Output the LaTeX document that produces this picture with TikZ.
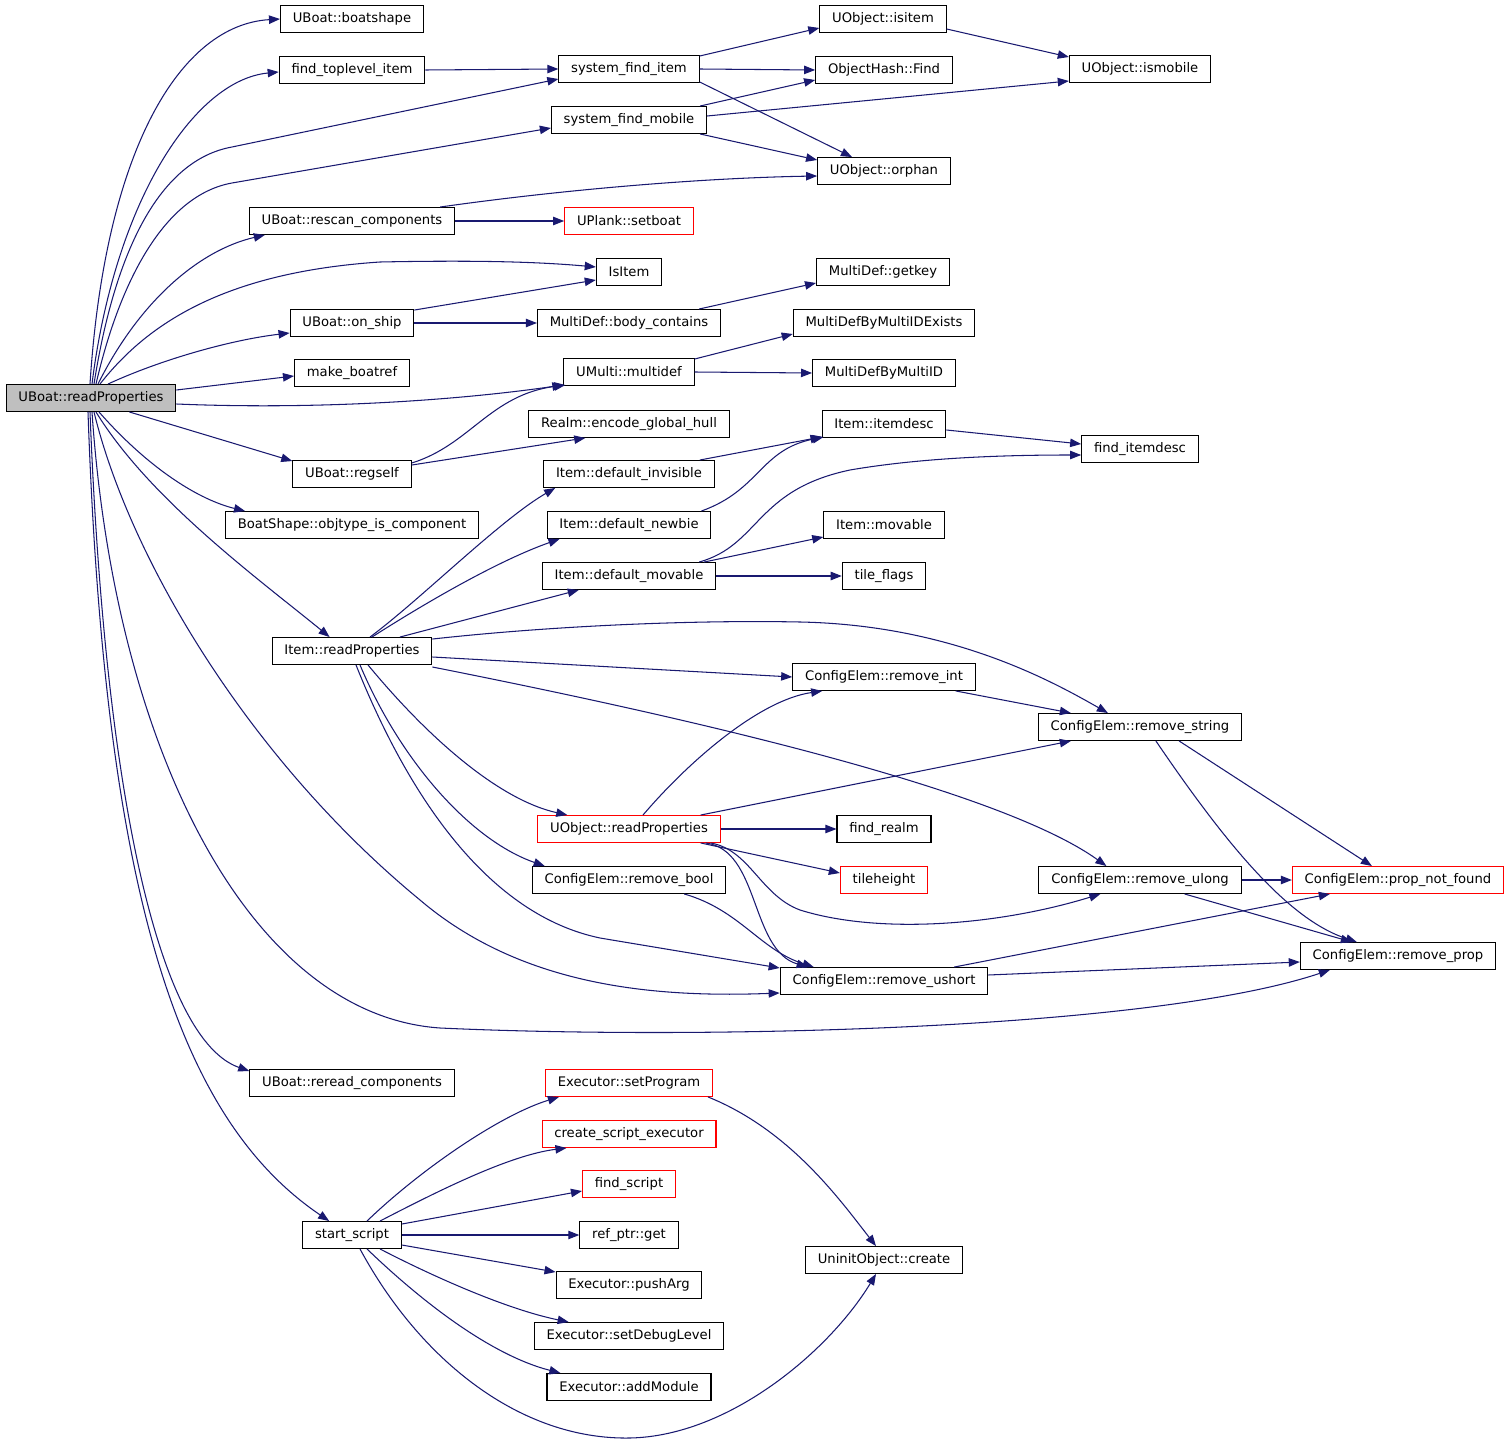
\documentclass[tikz,border=0pt]{standalone}
\usepackage{fontspec}
\setmainfont{DejaVu Sans}
\usepackage{tikz}
\usetikzlibrary{arrows.meta, calc}
\definecolor{edgeblue}{HTML}{191970}
\definecolor{rootgray}{HTML}{BFBFBF}

\begin{document}
\begin{tikzpicture}[x=0.02cm, y=-0.02cm]
          % Define styles
          \tikzstyle{fn} = [draw=black, line width=0.6pt, inner xsep=7pt, inner ysep=0pt,
                            minimum height=15.3pt, font=\fontsize{7.5}{9}\selectfont]
          \tikzstyle{fnred} = [fn, draw=red]
          \tikzstyle{fnroot} = [fn, fill=rootgray]
          \tikzstyle{call} = [draw=edgeblue, line width=0.6pt, -{Triangle[length=6.3pt,width=4.8pt]}]

          \useasboundingbox (0,0) rectangle (1509,1443);

          % Root
          \node[fnroot] (RP) at (91,398) {UBoat::readProperties};

          % First column
          \node[fn] (boatshape) at (352,19)   {UBoat::boatshape};
          \node[fn] (ftl)       at (352,70)   {find\_toplevel\_item};
          \node[fn] (rescan)    at (352,221)  {UBoat::rescan\_components};
          \node[fn] (onship)    at (352,323)  {UBoat::on\_ship};
          \node[fn] (boatref)   at (352,373)  {make\_boatref};
          \node[fn] (regself)   at (352,474)  {UBoat::regself};
          \node[fn] (objtype)   at (352,525)  {BoatShape::objtype\_is\_component};
          \node[fn] (itemrp)    at (352,651)  {Item::readProperties};
          \node[fn] (reread)    at (352,1083) {UBoat::reread\_components};
          \node[fn] (startscript) at (352,1235) {start\_script};

          % Second column
          \node[fn]    (sfi)        at (629,69)   {system\_find\_item};
          \node[fn]    (sfm)        at (629,120)  {system\_find\_mobile};
          \node[fnred] (setboat)    at (629,221)  {UPlank::setboat};
          \node[fn]    (isitemfn)   at (629,272)  {IsItem};
          \node[fn]    (bodycont)   at (629,323)  {MultiDef::body\_contains};
          \node[fn]    (multidef)   at (629,372)  {UMulti::multidef};
          \node[fn]    (hull)       at (629,424)  {Realm::encode\_global\_hull};
          \node[fn]    (definv)     at (629,474)  {Item::default\_invisible};
          \node[fn]    (defnewbie)  at (629,525)  {Item::default\_newbie};
          \node[fn]    (defmov)     at (629,576)  {Item::default\_movable};
          \node[fnred] (uobjrp)     at (629,829)  {UObject::readProperties};
          \node[fn]    (rmbool)     at (629,880)  {ConfigElem::remove\_bool};
          \node[fnred] (setprog)    at (629,1083) {Executor::setProgram};
          \node[fnred] (createexec) at (629,1134) {create\_script\_executor};
          \node[fnred] (findscript) at (629,1184) {find\_script};
          \node[fn]    (refget)     at (629,1235) {ref\_ptr::get};
          \node[fn]    (pusharg)    at (629,1285) {Executor::pushArg};
          \node[fn]    (setdebug)   at (629,1336) {Executor::setDebugLevel};
          \node[fn]    (addmodule)  at (629,1387) {Executor::addModule};

          % Third column
          \node[fn]    (isitem)     at (883,19)   {UObject::isitem};
          \node[fn]    (ohfind)     at (884,70)   {ObjectHash::Find};
          \node[fn]    (orphan)     at (884,171)  {UObject::orphan};
          \node[fn]    (getkey)     at (883,272)  {MultiDef::getkey};
          \node[fn]    (mdexists)   at (884,323)  {MultiDefByMultiIDExists};
          \node[fn]    (mdbyid)     at (884,373)  {MultiDefByMultiID};
          \node[fn]    (itemdesc)   at (884,424)  {Item::itemdesc};
          \node[fn]    (movable)    at (884,525)  {Item::movable};
          \node[fn]    (tileflags)  at (884,576)  {tile\_flags};
          \node[fn]    (rmint)      at (884,677)  {ConfigElem::remove\_int};
          \node[fn]    (findrealm)  at (884,829)  {find\_realm};
          \node[fnred] (tileheight) at (884,880)  {tileheight};
          \node[fn]    (rmushort)   at (884,981)  {ConfigElem::remove\_ushort};
          \node[fn]    (uninit)     at (884,1260) {UninitObject::create};

          % Fourth and fifth column
          \node[fn]    (ismobile)   at (1140,69)  {UObject::ismobile};
          \node[fn]    (finddesc)   at (1140,449) {find\_itemdesc};
          \node[fn]    (rmstring)   at (1140,727) {ConfigElem::remove\_string};
          \node[fn]    (rmulong)    at (1140,880) {ConfigElem::remove\_ulong};
          \node[fnred] (propnf)     at (1398,880) {ConfigElem::prop\_not\_found};
          \node[fn]    (rmprop)     at (1398,956) {ConfigElem::remove\_prop};

          % Calls of UBoat::readProperties
          \draw[call] ($(RP.north)+(-1,0)$) .. controls (105,150) and (180,25) .. (boatshape.west);
          \draw[call] ($(RP.north)+(1,0)$) .. controls (115,200) and (195,80) .. ($(ftl.west)+(0,2)$);
          \draw[call] ($(RP.north)+(3,0)$) .. controls (115,250) and (160,160) .. (232,147) -- ($(sfi.west)+(0,10)$);
          \draw[call] ($(RP.north)+(5,0)$) .. controls (120,280) and (165,195) .. (232,183) -- ($(sfm.west)+(0,8)$);
          \draw[call] ($(RP.north)+(7,0)$) .. controls (140,300) and (200,250) .. ($(rescan.south west)+(16,0)$);
          \draw[call] ($(RP.north)+(9,0)$) .. controls (150,320) and (230,272) .. (380,262) .. controls (480,260) and (540,262) .. ($(isitemfn.west)+(0,-5)$);
          \draw[call] ($(RP.north)+(17,0)$) .. controls (160,360) and (230,340) .. ($(onship.west)+(0,10)$);
          \draw[call] ($(RP.east)+(0,-8)$) -- ($(boatref.west)+(0,3)$);
          \draw[call] ($(RP.east)+(0,6)$) .. controls (320,410) and (460,400) .. ($(multidef.south west)+(0,-1)$);
          \draw[call] (RP.-20) -- ($(regself.north west)+(0,1)$);
          \draw[call] ($(RP.south)+(8,0)$) .. controls (150,470) and (200,500) .. ($(objtype.north west)+(20,0)$);
          \draw[call] ($(RP.south)+(5,0)$) .. controls (150,500) and (260,580) .. ($(itemrp.north west)+(58,0)$);
          \draw[call] ($(RP.south)+(3,0)$) .. controls (130,560) and (250,760) .. (420,900) .. controls (520,985) and (650,998) .. ($(rmushort.west)+(0,12)$);
          \draw[call] ($(RP.south)+(1,0)$) .. controls (115,750) and (250,1015) .. (440,1028) .. controls (700,1040) and (1150,1030) .. ($(rmprop.south west)+(30,0)$);
          \draw[call] ($(RP.south)+(-1,0)$) .. controls (105,800) and (160,1040) .. ($(reread.west)+(0,-12)$);
          \draw[call] ($(RP.south)+(-3,0)$) .. controls (105,900) and (180,1120) .. ($(startscript.north west)+(27,0)$);

          % Object lookups
          \draw[call] (ftl.east) -- (sfi.west);
          \draw[call] ($(sfi.north east)+(0,1)$) -- ($(isitem.west)+(0,9)$);
          \draw[call] (sfi.east) -- (ohfind.west);
          \draw[call] ($(sfi.south east)+(0,-1)$) -- ($(orphan.north)+(-32,0)$);
          \draw[call] ($(sfm.north east)+(-7,0)$) -- ($(ohfind.west)+(0,10)$);
          \draw[call] ($(sfm.east)+(0,-4)$) -- ($(ismobile.west)+(0,12)$);
          \draw[call] ($(sfm.south east)+(-7,0)$) -- ($(orphan.west)+(0,-11)$);
          \draw[call] ($(isitem.east)+(0,10)$) -- ($(ismobile.west)+(0,-12)$);
          \draw[call] ($(rescan.north east)+(-15,0)$) .. controls (560,190) and (700,178) .. ($(orphan.west)+(0,5)$);
          \draw[call] (rescan.east) -- (setboat.west);

          % Multi and item helpers
          \draw[call] ($(onship.north east)+(0,1)$) -- ($(isitemfn.west)+(0,8)$);
          \draw[call] (onship.east) -- (bodycont.west);
          \draw[call] ($(bodycont.north east)+(-22,0)$) -- ($(getkey.west)+(0,11)$);
          \draw[call] ($(multidef.north east)+(0,1)$) -- ($(mdexists.west)+(0,11)$);
          \draw[call] (multidef.east) -- (mdbyid.west);
          \draw[call] ($(regself.north east)+(0,3)$) .. controls (470,445) and (490,395) .. ($(multidef.south west)+(2,-1)$);
          \draw[call] ($(regself.north east)+(0,5)$) -- ($(hull.south west)+(57,0)$);
          \draw[call] ($(itemdesc.east)+(0,6)$) -- ($(finddesc.west)+(0,-5)$);
          \draw[call] ($(definv.north east)+(-15,0)$) -- ($(itemdesc.south west)+(0,-1)$);
          \draw[call] ($(defnewbie.north east)+(-10,0)$) .. controls (760,490) and (760,450) .. ($(itemdesc.south west)+(2,-1)$);
          \draw[call] ($(defmov.north east)+(-17,0)$) .. controls (760,545) and (755,490) .. (850,470) .. controls (920,458) and (1000,455) .. ($(finddesc.west)+(0,6)$);
          \draw[call] ($(defmov.north east)+(-12,0)$) -- ($(movable.west)+(0,12)$);
          \draw[call] (defmov.east) -- (tileflags.west);

          % Item::readProperties
          \draw[call] ($(itemrp.north)+(18,0)$) .. controls (420,600) and (500,520) .. ($(definv.south west)+(12,0)$);
          \draw[call] ($(itemrp.north)+(20,0)$) .. controls (430,600) and (500,560) .. ($(defnewbie.south west)+(13,0)$);
          \draw[call] ($(itemrp.north)+(48,0)$) -- ($(defmov.south west)+(37,0)$);
          \draw[call] ($(itemrp.north east)+(0,2)$) .. controls (560,625) and (700,620) .. (800,622) .. controls (950,625) and (1050,680) .. ($(rmstring.north west)+(70,0)$);
          \draw[call] ($(itemrp.east)+(0,6)$) -- (rmint.west);
          \draw[call] ($(itemrp.east)+(0,16)$) .. controls (700,720) and (1000,790) .. ($(rmulong.north west)+(68,0)$);
          \draw[call] ($(itemrp.south)+(16,0)$) .. controls (430,740) and (500,800) .. ($(uobjrp.north west)+(30,0)$);
          \draw[call] ($(itemrp.south)+(8,0)$) .. controls (400,760) and (470,840) .. ($(rmbool.north west)+(13,0)$);
          \draw[call] ($(itemrp.south)+(4,0)$) .. controls (410,800) and (490,915) .. (600,938) -- ($(rmushort.west)+(0,-13)$);

          % UObject::readProperties
          \draw[call] ($(uobjrp.north)+(14,0)$) .. controls (690,760) and (760,700) .. ($(rmint.south west)+(30,0)$);
          \draw[call] ($(uobjrp.north east)+(-20,0)$) -- ($(rmstring.south west)+(33,0)$);
          \draw[call] (uobjrp.east) -- (findrealm.west);
          \draw[call] ($(uobjrp.south east)+(-20,0)$) -- ($(tileheight.west)+(0,-7)$);
          \draw[call] ($(uobjrp.south east)+(-15,0)$) .. controls (760,850) and (750,950) .. ($(rmushort.north west)+(28,0)$);
          \draw[call] ($(uobjrp.south east)+(-10,0)$) .. controls (750,850) and (760,895) .. (800,910) .. controls (880,935) and (1000,925) .. ($(rmulong.south west)+(62,0)$);
          \draw[call] ($(rmbool.south east)+(-42,0)$) .. controls (740,910) and (760,950) .. ($(rmushort.north west)+(34,0)$);

          % ConfigElem internals
          \draw[call] ($(rmint.south east)+(-20,0)$) -- ($(rmstring.north west)+(33,0)$);
          \draw[call] ($(rmstring.south east)+(-63,0)$) -- ($(propnf.north west)+(80,0)$);
          \draw[call] ($(rmstring.south west)+(118,0)$) .. controls (1230,850) and (1290,920) .. ($(rmprop.north west)+(57,0)$);
          \draw[call] (rmulong.east) -- (propnf.west);
          \draw[call] ($(rmulong.south east)+(-57,0)$) -- ($(rmprop.north west)+(52,0)$);
          \draw[call] ($(rmushort.north east)+(-34,0)$) -- ($(propnf.south west)+(38,0)$);
          \draw[call] ($(rmushort.east)+(0,-6)$) -- ($(rmprop.west)+(0,6)$);

          % start_script
          \draw[call] ($(setprog.south east)+(-5,0)$) .. controls (790,1130) and (840,1200) .. ($(uninit.north)+(-8,0)$);
          \draw[call] ($(startscript.north)+(15,0)$) .. controls (420,1170) and (500,1115) .. ($(setprog.south west)+(14,0)$);
          \draw[call] ($(startscript.north)+(28,0)$) .. controls (440,1190) and (510,1155) .. ($(createexec.south west)+(25,0)$);
          \draw[call] ($(startscript.north east)+(0,3)$) -- ($(findscript.west)+(0,7)$);
          \draw[call] (startscript.east) -- (refget.west);
          \draw[call] ($(startscript.east)+(0,10)$) -- ($(pusharg.north west)+(0,1)$);
          \draw[call] ($(startscript.south)+(28,0)$) .. controls (440,1280) and (510,1310) .. ($(setdebug.north west)+(35,0)$);
          \draw[call] ($(startscript.south)+(15,0)$) .. controls (420,1300) and (490,1355) .. ($(addmodule.north west)+(14,0)$);
          \draw[call] ($(startscript.south)+(8,0)$) .. controls (420,1360) and (520,1440) .. (630,1438) .. controls (730,1436) and (830,1350) .. ($(uninit.south)+(-8,0)$);
     \end{tikzpicture}
\end{document}
